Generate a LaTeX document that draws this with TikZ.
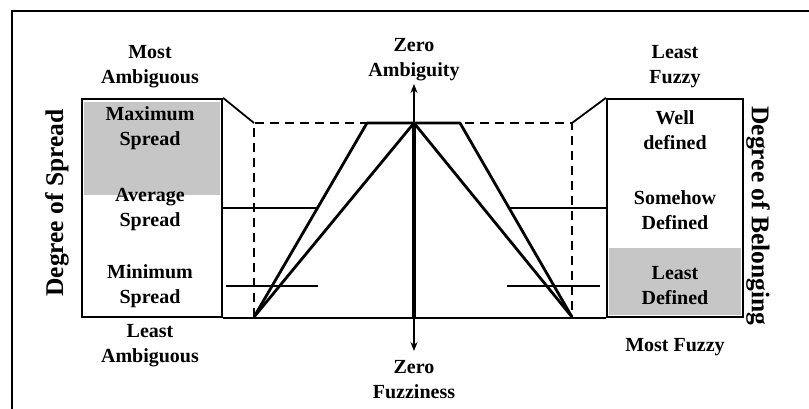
\documentclass[tikz,border=0pt]{standalone}
\usepackage{fontspec}
\setmainfont{Liberation Serif}
\usetikzlibrary{arrows.meta}

\begin{document}
\begin{tikzpicture}[x=1pt, y=-1pt, >={Stealth[length=9pt,width=7pt]},
    lbl/.style={font=\fontsize{20}{25}\bfseries\selectfont, align=center, inner sep=0pt},
    axislbl/.style={font=\fontsize{25.5}{30}\bfseries\selectfont, inner sep=0pt},
    scalebox/.style={rectangle, draw, line width=2.2pt, minimum height=218pt, inner sep=0pt},
    shade/.style={fill=gray!45},
    level/.style={line width=1.8pt},
    frame/.style={line width=2.2pt}]
    \useasboundingbox (0,0) rectangle (809,409);

    % grey parts of the two scales
    \fill[shade] (84,102) rectangle (220,195);
    \fill[shade] (609,248) rectangle (741,315);

    \node (spreadbox) [scalebox, minimum width=140pt] at (152,208) {};
    \node (belongbox) [scalebox, minimum width=136pt] at (675,208) {};

    \coordinate (ltop) at (254,123);
    \coordinate (rtop) at (572,123);
    \coordinate (lbot) at (254,317);
    \coordinate (rbot) at (572,317);
    \coordinate (peak) at (414,123);
    \coordinate (base) at (414,317);
    \coordinate (tl) at (367,123);
    \coordinate (tr) at (460,123);
    \coordinate (up) at (414,84);
    \coordinate (down) at (414,351);

    % outer frame
    \draw [frame] (12,409) -- (12,11) -- (809,11);

    % base line and dashed support
    \draw [frame] (spreadbox.south east) -- (belongbox.south west);
    \draw [line width=2.8pt, dash pattern=on 9pt off 6pt] (lbot) -- (ltop) -- (rtop) -- (rbot);
    \draw [level] (spreadbox.north east) -- (ltop);
    \draw [level] (rtop) -- (belongbox.north west);

    % level lines
    \draw [level] (222,208) -- (317,208);
    \draw [level] (510,208) -- (607,208);
    \draw [level] (226,286) -- (318,286);
    \draw [level] (507,286) -- (600,286);

    % trapezoid, triangle and singleton
    \draw [line width=2.8pt, line join=round] (lbot) -- (tl) -- (tr) -- (rbot);
    \draw [line width=2.8pt, line join=round] (lbot) -- (peak) -- (rbot);
    \draw [line width=4.5pt] (base) -- (peak);
    \draw [->, line width=1.5pt] (peak) -- (up);
    \draw [->, line width=1.5pt] (base) -- (down);

    % texts
    \node (mostamb) [lbl] at (150,67) {Most\\Ambiguous};
    \node (leastamb) [lbl] at (150,346) {Least\\Ambiguous};
    \node (degspread) [axislbl, rotate=90] at (57,203) {Degree of Spread};
    \node (maxspread) [lbl] at (150,128) {Maximum\\Spread};
    \node (avgspread) [lbl] at (150,210) {Average\\Spread};
    \node (minspread) [lbl] at (150,286) {Minimum\\Spread};
    \node (zeroamb) [lbl] at (414,60) {Zero\\Ambiguity};
    \node (zerofuzz) [lbl] at (414,380) {Zero\\Fuzziness};
    \node (leastfuzzy) [lbl] at (675,67) {Least\\Fuzzy};
    \node (welldef) [lbl] at (675,130) {Well\\defined};
    \node (somehow) [lbl] at (675,210) {Somehow\\Defined};
    \node (leastdef) [lbl] at (675,286) {Least\\Defined};
    \node (mostfuzzy) [lbl] at (675,347) {Most Fuzzy};
    \node (degbelong) [axislbl, rotate=-90] at (758,216) {Degree of Belonging};
  \end{tikzpicture}
\end{document}
